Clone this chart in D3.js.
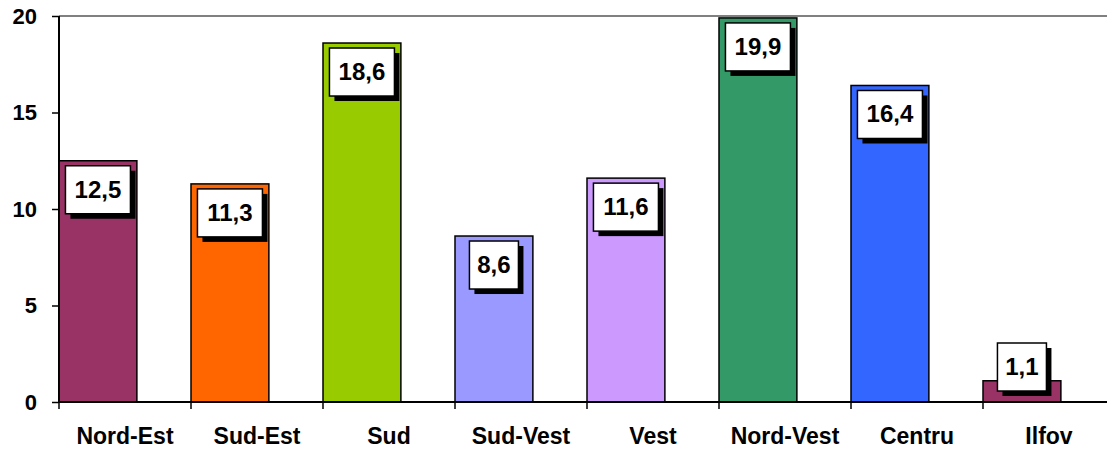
<!DOCTYPE html>
<html>
<head>
<meta charset="utf-8">
<script src="https://cdn.jsdelivr.net/npm/d3@7"></script>
<style>
    body { margin: 0; background: #fff; }
    svg text { font-family: "Liberation Sans", Arial, sans-serif; font-weight: bold; }
</style>
</head>
<body>
<div id="chart"></div>
<script>
    var regions = ["Nord-Est", "Sud-Est", "Sud", "Sud-Vest", "Vest", "Nord-Vest", "Centru", "Ilfov"];
    var values = [12.5, 11.3, 18.6, 8.6, 11.6, 19.9, 16.4, 1.1];
    var colors = ["#993366", "#ff6600", "#99cc00", "#9999ff", "#cc99ff", "#339966", "#3366ff", "#993366"];
    var yTicks = [0, 5, 10, 15, 20];

    (function () {
        "use strict";

        var W = 1107, H = 452,
            m = {top: 16, left: 59, bottom: 50},
            bandw = 132,
            svg, x, y, g, labels;

        svg = d3.select("#chart").append("svg")
            .attr("width", W)
            .attr("height", H);

        //category bands run past the right edge of the picture, like the original
        x = d3.scaleBand().domain(regions)
            .range([m.left, m.left + bandw * regions.length]);
        y = d3.scaleLinear().domain([0, 20]).range([H - m.bottom, m.top]);

        //top border line of the plot area
        svg.append("line")
            .attr("x1", m.left).attr("x2", W)
            .attr("y1", y(20)).attr("y2", y(20))
            .attr("stroke", "#808080").attr("stroke-width", 2);

        svg.append("g").selectAll("rect")
            .data(values)
            .enter().append("rect")
            .attr("x", function (d, i) { return x(regions[i]); })
            .attr("y", function (d) { return y(d); })
            .attr("width", bandw * 0.59)
            .attr("height", function (d) { return y(0) - y(d); })
            .attr("fill", function (d, i) { return colors[i]; })
            .attr("stroke", "#000")
            .attr("stroke-width", 1.5);

        //y axis
        g = svg.append("g")
            .attr("transform", "translate(" + m.left + ",0)")
            .call(d3.axisLeft(y).tickValues(yTicks).tickSize(7).tickPadding(15)
                  .tickFormat(d3.format("d")));
        g.select(".domain").attr("stroke", "#000").attr("stroke-width", 2)
            .attr("d", "M0," + y(20) + "V" + y(0));
        g.selectAll(".tick line").attr("stroke", "#000").attr("stroke-width", 1.5);
        g.selectAll(".tick text").attr("font-size", 22).attr("fill", "#000");

        //x axis: ticks at category boundaries
        g = svg.append("g")
            .attr("transform", "translate(0," + y(0) + ")");
        g.append("line")
            .attr("x1", m.left).attr("x2", W)
            .attr("stroke", "#000").attr("stroke-width", 2);
        g.selectAll("line.tk")
            .data(regions)
            .enter().append("line")
            .attr("class", "tk")
            .attr("x1", function (d) { return x(d); })
            .attr("x2", function (d) { return x(d); })
            .attr("y1", 0).attr("y2", 7)
            .attr("stroke", "#000").attr("stroke-width", 1.5);
        g.selectAll("text")
            .data(regions)
            .enter().append("text")
            .attr("x", function (d) { return x(d) + bandw / 2; })
            .attr("y", 42)
            .attr("text-anchor", "middle")
            .attr("font-size", 23)
            .attr("fill", "#000")
            .text(function (d) { return d; });

        //value labels in shadowed boxes
        labels = svg.append("g").selectAll("g")
            .data(values)
            .enter().append("g")
            .attr("transform", function (d, i) {
                var cx = x(regions[i]) + bandw * 0.59 / 2,
                    cy = Math.min(y(d) + 29, y(0) - 35);
                return "translate(" + cx + "," + cy + ")";
            });
        labels.each(function (d) {
            var lg = d3.select(this),
                txt = String(d.toFixed(1)).replace(".", ","),
                w = txt.length > 3 ? 65 : 49,
                h = 48;
            lg.append("rect")
                .attr("x", -w / 2 + 5).attr("y", -h / 2 + 5)
                .attr("width", w).attr("height", h)
                .attr("fill", "#000");
            lg.append("rect")
                .attr("x", -w / 2).attr("y", -h / 2)
                .attr("width", w).attr("height", h)
                .attr("fill", "#fff")
                .attr("stroke", "#000").attr("stroke-width", 1.5);
            lg.append("text")
                .attr("text-anchor", "middle")
                .attr("y", 8)
                .attr("font-size", 24)
                .attr("fill", "#000")
                .text(txt);
        });
    }());
</script>
</body>
</html>
